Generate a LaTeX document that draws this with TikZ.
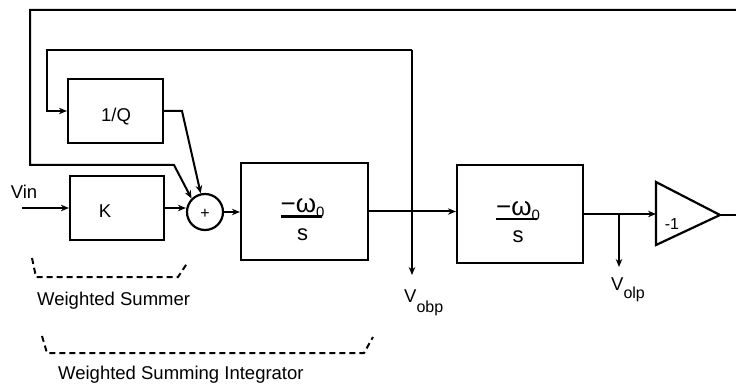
\documentclass[tikz,border=0pt]{standalone}
\usepackage{fontspec}
\setmainfont{Liberation Sans}
\usetikzlibrary{arrows.meta,calc}
\begin{document}
\begin{tikzpicture}[x=1pt,y=-1pt,
  wire/.style={line width=2pt},
  arr/.style={wire,-{Stealth[length=8pt,width=6.5pt]}},
  blk/.style={draw,line width=2.2pt,rectangle,inner sep=0pt},
  lbl/.style={font=\fontsize{18.5}{18.5}\selectfont},
  numr/.style={font=\fontsize{26}{26}\selectfont,anchor=base west,inner sep=0pt},
  denr/.style={font=\fontsize{22}{22}\selectfont,inner sep=0pt},
  brk/.style={line width=2pt,dash pattern=on 6pt off 4pt}]
\useasboundingbox (0,0) rectangle (736,390);
% blocks
\node[blk,minimum width=95pt,minimum height=64pt] (Q) at (115.5,111) {};
\node[lbl] (Qt) at (116,117) {1/Q};
\node[blk,minimum width=94pt,minimum height=64pt] (K) at (117,208) {};
\node[lbl] (Kt) at (105,211) {K};
\node[draw,circle,line width=2.2pt,minimum size=36pt,inner sep=0pt] (sum) at (205,212) {};
\node[font=\fontsize{16}{16}\selectfont] (plus) at ($(sum.center)+(0,2)$) {+};
\node[blk,minimum width=127pt,minimum height=97pt] (int1) at (304.5,211.5) {};
\node[blk,minimum width=126pt,minimum height=98pt] (int2) at (520,214) {};
% integrator texts
\foreach \b in {int1,int2}{
  \node[numr] (\b num) at ($(\b.center)+(-24,1)$) {−ω\raisebox{-5pt}{\fontsize{15}{15}\selectfont 0}};
  \draw[line width=2.6pt] ($(\b.center)+(-24,5)$) -- ($(\b.center)+(17,5)$);
  \node[denr] (\b den) at ($(\b.center)+(-2,23)$) {s};
}
% amplifier
\coordinate (amptop) at (656,182);
\coordinate (ampbot) at (656,245);
\coordinate (ampout) at (720,215);
\coordinate (ampin) at (656,214);
\draw[line width=2.2pt,line join=miter] (amptop) -- (ampout) -- (ampbot) -- cycle;
\node[font=\fontsize{16}{16}\selectfont] (m1) at (672,224) {-1};
% input
\coordinate (vin) at (22,208);
\node[lbl] (vint) at (24,192) {Vin};
\draw[arr] (vin) -- (K.west);
\draw[arr] (K.east) -- (K.east -| sum.west);
\draw[arr] (sum.east) -- (sum.east -| int1.west);
\draw[arr] (int1.east) -- (int1.east -| int2.west);
\draw[arr] (int2.east) -- (ampin);
\coordinate (outend) at (736,215);
\draw[wire] (ampout) -- (outend);
% bandpass tap and inner feedback
\coordinate (bptop) at (412,50);
\coordinate (bpbot) at (412,275);
\coordinate (fbl) at (47,50);
\draw[arr] (bptop) -- (bpbot);
\draw[arr] (bptop) -- (fbl) |- (Q.west);
\coordinate (qbend) at (182,111);
\draw[arr] (Q.east) -- (qbend) -- (sum.103);
% outer feedback
\coordinate (fbr) at (736,10);
\coordinate (fbtl) at (30,10);
\coordinate (fbbl) at (30,165);
\coordinate (fbk) at (174,165);
\draw[arr] (fbr) -- (fbtl) -- (fbbl) -- (fbk) -- (sum.135);
% lowpass tap
\coordinate (lptap) at (619,214);
\coordinate (lpbot) at (619,267);
\draw[arr] (lptap) -- (lpbot);
% output labels
\node[lbl,anchor=north west,inner sep=0pt] (vobp) at (404,290) {V\raisebox{-10pt}{\fontsize{16}{16}\selectfont obp}};
\node[lbl,anchor=north west,inner sep=0pt] (volp) at (611,278) {V\raisebox{-7.5pt}{\fontsize{16}{16}\selectfont olp}};
% brackets
\draw[brk] (32,258) -- (36,277) -- (178,277) -- (188,262);
\node[lbl,anchor=base west,inner sep=0pt] (ws) at (37,305) {Weighted Summer};
\draw[brk] (42,336) -- (47,353) -- (364,353) -- (373,337);
\node[lbl,anchor=base west,inner sep=0pt] (wsi) at (58,379) {Weighted Summing Integrator};
\end{tikzpicture}
\end{document}
